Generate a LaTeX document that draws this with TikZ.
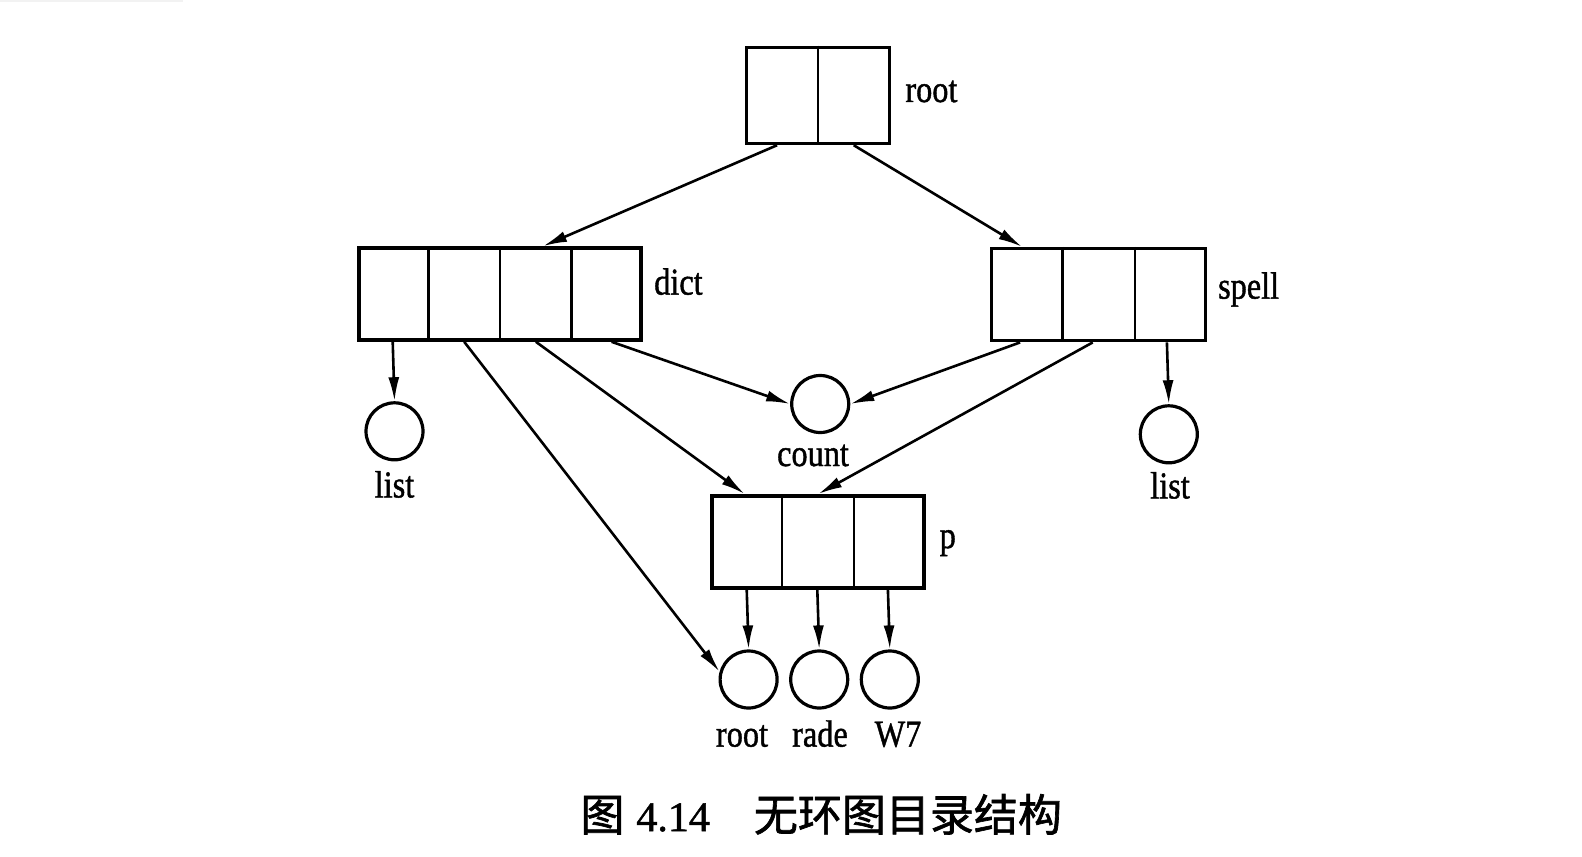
\documentclass[tikz,border=0pt]{standalone}
\usepackage{fontspec}
\usepackage{graphicx}
\setmainfont{Liberation Serif}
\newfontfamily\lblfont[FakeBold=1.2]{Liberation Serif}
\newfontfamily\cjk[FakeBold=1.5]{Noto Sans CJK SC}
\usetikzlibrary{arrows.meta,calc}
\newcommand{\lbl}[1]{\scalebox{0.85}[1]{#1}}
\tikzset{
  box/.style={draw, line width=1.8pt, minimum height=46pt, inner sep=0pt, fill=none},
  cell/.style={line width=1.2pt},
  leaf/.style={draw, circle, line width=1.6pt, minimum size=28.5pt, inner sep=0pt},
  tag/.style={font=\lblfont\fontsize{19}{22}\selectfont, inner sep=0pt, anchor=base},
  link/.style={line width=1.3pt, -{Latex[length=12pt,width=5.5pt]}},
}
\begin{document}
\begin{tikzpicture}[x=0.5pt,y=-0.5pt]
\useasboundingbox (0,0) rectangle (1582,856);
\fill[black!5] (0,0) rectangle (183,2.5);
% boxes
\node[box, minimum width=71.5pt, minimum height=48pt] (root) at (818,95.4) {};
\node[box, minimum width=141pt] (dict) at (500,294) {};
\node[box, minimum width=107pt] (spell) at (1098.6,294.6) {};
\node[box, minimum width=106pt] (p) at (818.2,541.8) {};
% dividers
\draw[cell] ($(root.north west)!0.5!(root.north east)$) -- ($(root.south west)!0.5!(root.south east)$);
\foreach \f in {0.25,0.5,0.75}{
  \draw[cell] ($(dict.north west)!\f!(dict.north east)$) -- ($(dict.south west)!\f!(dict.south east)$);}
\foreach \f in {0.3333,0.6667}{
  \draw[cell] ($(spell.north west)!\f!(spell.north east)$) -- ($(spell.south west)!\f!(spell.south east)$);
  \draw[cell] ($(p.north west)!\f!(p.north east)$) -- ($(p.south west)!\f!(p.south east)$);}
% circles
\node[leaf] (listL) at (394.5,431.3) {};
\node[leaf] (count) at (820.2,404) {};
\node[leaf] (listR) at (1168.8,434.3) {};
\node[leaf] (c1) at (748.6,679.5) {};
\node[leaf] (c2) at (819.2,679.5) {};
\node[leaf] (c3) at (889.8,679.5) {};
% labels
\node[tag, anchor=base west] (troot) at (905,102) {\lbl{root}};
\node[tag, anchor=base west] (tdict) at (653.8,294.6) {\lbl{dict}};
\node[tag, anchor=base west] (tspell) at (1217.7,298.6) {\lbl{spell}};
\node[tag, anchor=base west] (tp) at (939.3,548) {\lbl{p}};
\node[tag] (tlistL) at (394.5,497.4) {\lbl{list}};
\node[tag] (tcount) at (813,466) {\lbl{count}};
\node[tag] (tlistR) at (1170,498.4) {\lbl{list}};
\node[tag] (tc1) at (742,746.6) {\lbl{root}};
\node[tag] (tc2) at (820,746.6) {\lbl{rade}};
\node[tag] (tc3) at (898,746.6) {\lbl{W7}};
% caption
\node[inner sep=0pt, anchor=base west] (cap) at (580,831)
  {{\fontsize{22}{26}\selectfont\cjk 图}\hspace{6pt}{\fontsize{21}{26}\selectfont\lblfont 4.14}\hspace{22pt}{\fontsize{22}{26}\selectfont\cjk 无环图目录结构}};
% anchor points on boxes
\coordinate (r1) at ($(root.south west)+(32.4,0)$);
\coordinate (r2) at ($(root.south west)+(109,0)$);
\coordinate (rin1) at ($(dict.north west)+(185.8,0)$);
\coordinate (rin2) at ($(spell.north west)+(32.3,0)$);
\coordinate (d1) at ($(dict.south west)+(35.5,0)$);
\coordinate (d2) at ($(dict.south west)+(107,0)$);
\coordinate (d3) at ($(dict.south west)+(178.7,0)$);
\coordinate (d4) at ($(dict.south west)+(254.4,0)$);
\coordinate (s1) at ($(spell.south west)+(30.3,0)$);
\coordinate (s2) at ($(spell.south west)+(102.9,0)$);
\coordinate (s3) at ($(spell.south west)+(177.1,0)$);
\coordinate (pin1) at ($(p.north west)+(34.3,0)$);
\coordinate (p1) at ($(p.south west)+(36.3,0)$);
\coordinate (p2) at ($(p.south west)+(106.9,0)$);
\coordinate (p3) at ($(p.south west)+(177.5,0)$);
% connectors
\draw[link] (r1) -- (rin1);
\draw[link] (r2) -- (rin2);
\draw[link] (d1) -- (listL.north);
\draw[link] (d2) -- (c1.165);
\draw[link] (d3) -- (pin1);
\draw[link] (d4) -- (count.west);
\draw[link] (s1) -- (count.east);
\draw[link] (s2) -- (p.north);
\draw[link] (s3) -- (listR.north);
\draw[link] (p1) -- (c1.north);
\draw[link] (p2) -- (c2.north);
\draw[link] (p3) -- (c3.north);
\end{tikzpicture}
\end{document}
